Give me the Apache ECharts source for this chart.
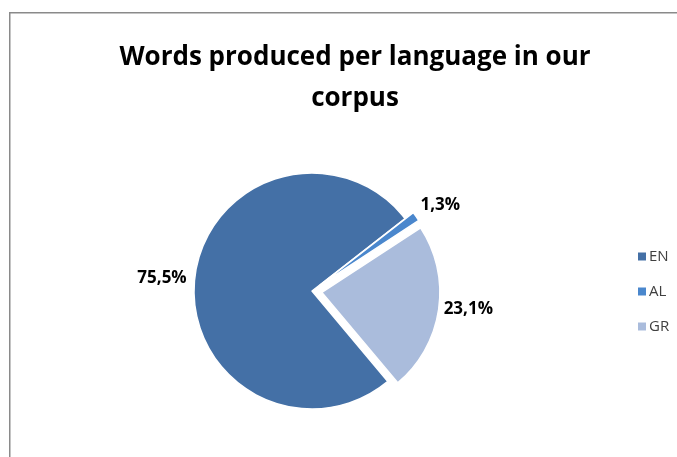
<!DOCTYPE html>
<html><head><meta charset="utf-8">
<script src="https://cdn.jsdelivr.net/npm/echarts@6/dist/echarts.min.js"></script>
<style>html,body{margin:0;padding:0;background:#fff;}#c{width:677px;height:457px;}</style>
</head><body><div id="c"></div>
<script>
const categories = ['EN', 'AL', 'GR'];
const values = [75.5, 1.3, 23.1];
const labels = ['75,5%', '1,3%', '23,1%'];
const colors = ['#4470A6', '#4A87CD', '#AABCDC'];
const exploded = [false, true, true];

// label placement tuning per slice (style, not data)
const labelLineLen = [3, 19, 0];
const labelLineLen2 = [0, -16, 0];

const chart = echarts.init(document.getElementById('c'));
chart.setOption({
  backgroundColor: '#fff',
  animation: false,
  graphic: [{
    type: 'rect', left: 9, top: 12, z: -1,
    shape: { width: 720, height: 500 },
    style: { fill: '#fff', stroke: '#8a8a8a', lineWidth: 1.5 }
  }],
  title: {
    text: 'Words produced per language in our\ncorpus',
    left: 350, top: 32, textAlign: 'center',
    textStyle: { fontFamily: 'Open Sans', fontWeight: 700, fontSize: 26, lineHeight: 41, color: '#000' }
  },
  legend: {
    orient: 'vertical', left: 631, top: 244, itemGap: 20,
    itemWidth: 10, itemHeight: 10, icon: 'rect',
    data: categories,
    textStyle: { fontFamily: 'Open Sans', fontSize: 15, color: '#404040', padding: [0, 0, 0, -3] }
  },
  series: [{
    type: 'pie',
    center: [312, 291],
    radius: 118,
    startAngle: -50,
    clockwise: true,
    avoidLabelOverlap: false,
    selectedMode: 'multiple',
    selectedOffset: 10,
    label: {
      show: true, position: 'outside',
      fontFamily: 'Open Sans', fontWeight: 700, fontSize: 17, color: '#000',
      formatter: p => labels[p.dataIndex]
    },
    labelLine: { show: false },
    itemStyle: { borderColor: '#fff', borderWidth: 1.5 },
    data: categories.map((c, i) => ({
      name: c, value: values[i], selected: exploded[i],
      itemStyle: { color: colors[i] },
      labelLine: { show: false, length: labelLineLen[i], length2: labelLineLen2[i] }
    }))
  }]
});
</script></body></html>
